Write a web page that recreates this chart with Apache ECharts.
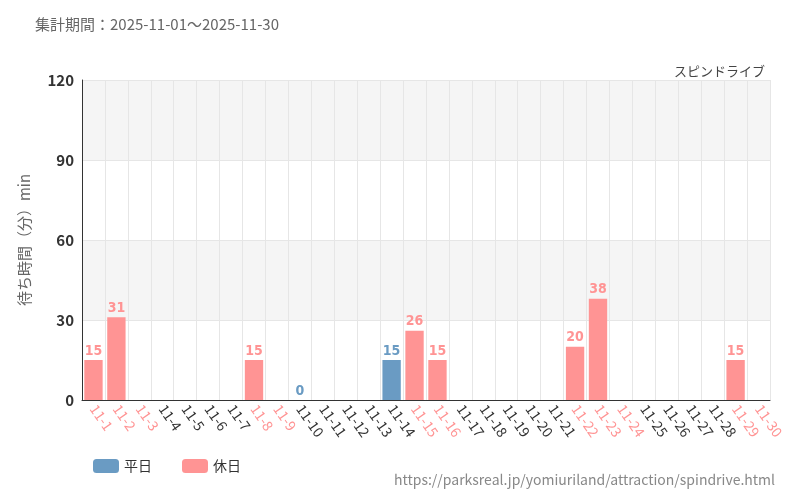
<!DOCTYPE html>
<html><head><meta charset="utf-8">
<script src="https://cdn.jsdelivr.net/npm/echarts@6/dist/echarts.min.js"></script>
</head><body style="margin:0">
<div id="c" style="width:800px;height:500px"></div>
<script>
const categories = ['11-1','11-2','11-3','11-4','11-5','11-6','11-7','11-8','11-9','11-10','11-11','11-12','11-13','11-14','11-15','11-16','11-17','11-18','11-19','11-20','11-21','11-22','11-23','11-24','11-25','11-26','11-27','11-28','11-29','11-30'];
const holidays = ['11-1','11-2','11-3','11-8','11-9','11-15','11-16','11-22','11-23','11-24','11-29','11-30'];
const weekdayValues = [null,null,null,null,null,null,null,null,null,0,null,null,null,15,null,null,null,null,null,null,null,null,null,null,null,null,null,null,null,null];
const holidayValues = [15,31,null,null,null,null,null,15,null,null,null,null,null,null,26,15,null,null,null,null,null,20,38,null,null,null,null,null,15,null];
const yTicks = [0,30,60,90,120];
const BLUE='#6a9bc3', PINK='#ff9494';
const font = '"Noto Sans CJK JP", "Noto Sans", sans-serif';
const lbl = c => ({show:true,position:'top',color:c,fontFamily:'"DejaVu Sans Condensed"',fontWeight:'bold',fontSize:14,distance:2});
const chart = echarts.init(document.getElementById('c'));
chart.setOption({
  animation:false,
  textStyle:{fontFamily:font},
  title:[{text:'集計期間：2025-11-01～2025-11-30',left:30,top:12,textStyle:{fontSize:15,fontWeight:'normal',color:'#666'}},
         {text:'スピンドライブ',right:30,top:60,textStyle:{fontSize:13,fontWeight:'normal',color:'#444'}},
         {text:'https://parksreal.jp/yomiuriland/attraction/spindrive.html',right:20,bottom:8,textStyle:{fontSize:14,fontWeight:'normal',color:'#888'}}],
  legend:{left:88,bottom:22,itemWidth:26,itemHeight:14,itemGap:30,textStyle:{fontSize:14,color:'#333'},data:['平日','休日']},
  grid:{left:82,right:30,top:80,bottom:100,containLabel:false},
  xAxis:{type:'category',data:categories,
    axisLine:{lineStyle:{color:'#333'}},axisTick:{show:false},
    splitLine:{show:true,interval:0,lineStyle:{color:'#e6e6e6'}},
    axisLabel:{interval:0,rotate:-55,fontSize:14,margin:6,
      color:(v)=>holidays.includes(v)?PINK:'#333'}},
  yAxis:{type:'value',min:0,max:yTicks[yTicks.length-1],interval:30,
    name:'待ち時間（分）min',nameLocation:'middle',nameGap:50,nameTextStyle:{fontSize:15,color:'#666'},
    axisLine:{show:true,lineStyle:{color:'#333'}},axisTick:{show:false},
    axisLabel:{fontSize:15,color:'#333',fontWeight:'bold'},
    splitLine:{lineStyle:{color:'#e6e6e6'}},
    splitArea:{show:true,areaStyle:{color:['#ffffff','#f5f5f5']}}},
  series:[
    {name:'平日',type:'bar',stack:'a',data:weekdayValues,barWidth:'80%',itemStyle:{color:BLUE},label:lbl(BLUE)},
    {name:'休日',type:'bar',stack:'a',data:holidayValues,barWidth:'80%',itemStyle:{color:PINK},label:lbl(PINK)}
  ]
});
</script></body></html>
